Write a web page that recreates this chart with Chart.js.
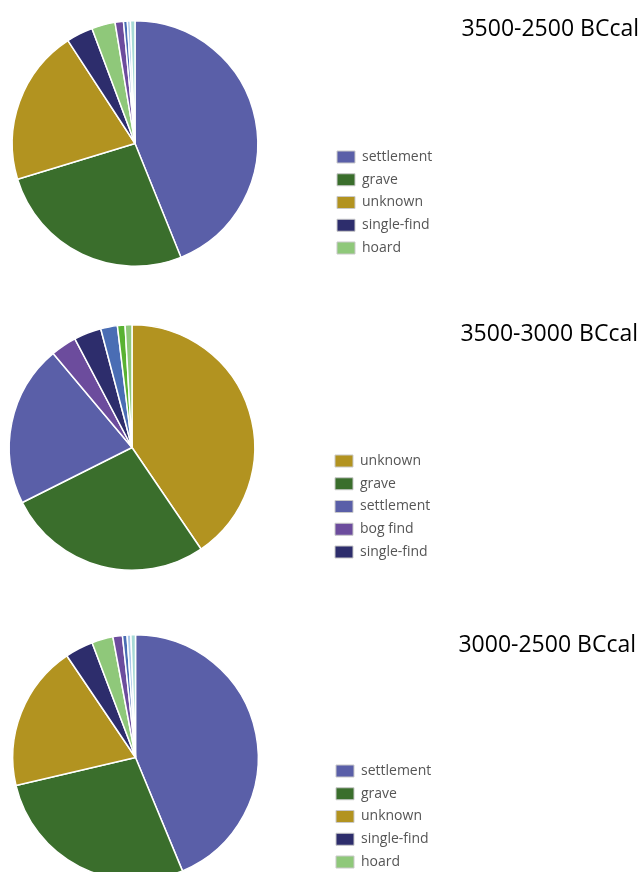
<!DOCTYPE html>
<html>
<head>
<meta charset="utf-8">
<script src="https://cdn.jsdelivr.net/npm/chart.js@4/dist/chart.umd.min.js"></script>
<style>
  html, body { margin: 0; padding: 0; background: #fff; width: 641px; height: 872px; overflow: hidden; }
  .panel { position: absolute; left: 0; width: 641px; height: 300px; }
  .title { position: absolute; right: 2px; font-family: "Open Sans", sans-serif; font-size: 23px; color: #000; white-space: nowrap; line-height: 1; }
</style>
</head>
<body>
<div class="panel" id="p1" style="top:0px"><canvas id="c1"></canvas></div>
<div class="panel" id="p2" style="top:304px"><canvas id="c2"></canvas></div>
<div class="panel" id="p3" style="top:614px"><canvas id="c3"></canvas></div>
<div class="title" id="t1" style="top:16px"></div>
<div class="title" id="t2" style="top:321px;right:3px"></div>
<div class="title" id="t3" style="top:632px;right:5px"></div>
<script>
// ---- data ----
const chart1Title = '3500-2500 BCcal';
const chart1Labels = ['settlement', 'grave', 'unknown', 'single-find', 'hoard', 'bog find', 'water find', 'megalith', 'other'];
const chart1Values = [43.9, 26.4, 20.5, 3.5, 3.1, 1.1, 0.5, 0.4, 0.6];

const chart2Title = '3500-3000 BCcal';
const chart2Labels = ['unknown', 'grave', 'settlement', 'bog find', 'single-find', 'water find', 'cult site', 'hoard'];
const chart2Values = [40.5, 27.1, 21.3, 3.4, 3.6, 2.2, 1.0, 0.9];

const chart3Title = '3000-2500 BCcal';
const chart3Labels = ['settlement', 'grave', 'unknown', 'single-find', 'hoard', 'bog find', 'water find', 'megalith', 'other'];
const chart3Values = [43.75, 27.6, 19.2, 3.7, 2.8, 1.25, 0.6, 0.5, 0.6];

// ---- styles ----
const categoryColors = {
  'settlement': '#5a5fa8',
  'grave': '#3a6e2c',
  'unknown': '#b29320',
  'single-find': '#2d2d6c',
  'hoard': '#8fc87a',
  'bog find': '#6c4c9d',
  'water find': '#4a6db4',
  'cult site': '#59b232',
  'megalith': '#a9c7e9',
  'other': '#a6dad6'
};

const placeLegend = {
  id: 'placeLegend',
  afterLayout(chart, args, opts) {
    const lg = chart.legend;
    if (!lg) return;
    const w = lg.width, h = lg.height;
    lg.left = opts.x; lg.right = opts.x + w;
    lg.top = opts.y; lg.bottom = opts.y + h;
  }
};

function makePie(canvasId, titleId, title, labels, values, cx, legendX) {
  document.getElementById(titleId).textContent = title;
  const r = 123, top = 20, panelH = 300, panelW = 641;
  new Chart(document.getElementById(canvasId), {
    type: 'pie',
    data: {
      labels: labels,
      datasets: [{
        data: values,
        backgroundColor: labels.map(l => categoryColors[l]),
        borderColor: '#ffffff',
        borderWidth: 1.5
      }]
    },
    plugins: [placeLegend],
    options: {
      responsive: true,
      maintainAspectRatio: false,
      animation: false,
      layout: {
        padding: { left: cx - r, top: top, right: panelW - (cx + r) - 1, bottom: panelH - (top + 2 * r) - 1 }
      },
      plugins: {
        tooltip: { enabled: false },
        placeLegend: { x: legendX, y: 141.25 },
        legend: {
          position: 'chartArea',
          align: 'start',
          labels: {
            boxWidth: 18,
            boxHeight: 12,
            padding: 8.75,
            color: '#555555',
            font: { family: '"Open Sans", sans-serif', size: 14 },
            filter: (item) => item.index < 5,
            generateLabels: (chart) => {
              const base = Chart.overrides.doughnut.plugins.legend.labels.generateLabels(chart);
              return base.map(it => Object.assign(it, { strokeStyle: '#c9c9c9', lineWidth: 1 }));
            }
          }
        }
      }
    }
  });
}

makePie('c1', 't1', chart1Title, chart1Labels, chart1Values, 134.5, 328.25);
makePie('c2', 't2', chart2Title, chart2Labels, chart2Values, 131.5, 326.25);
makePie('c3', 't3', chart3Title, chart3Labels, chart3Values, 135, 327.25);
</script>
</body>
</html>
